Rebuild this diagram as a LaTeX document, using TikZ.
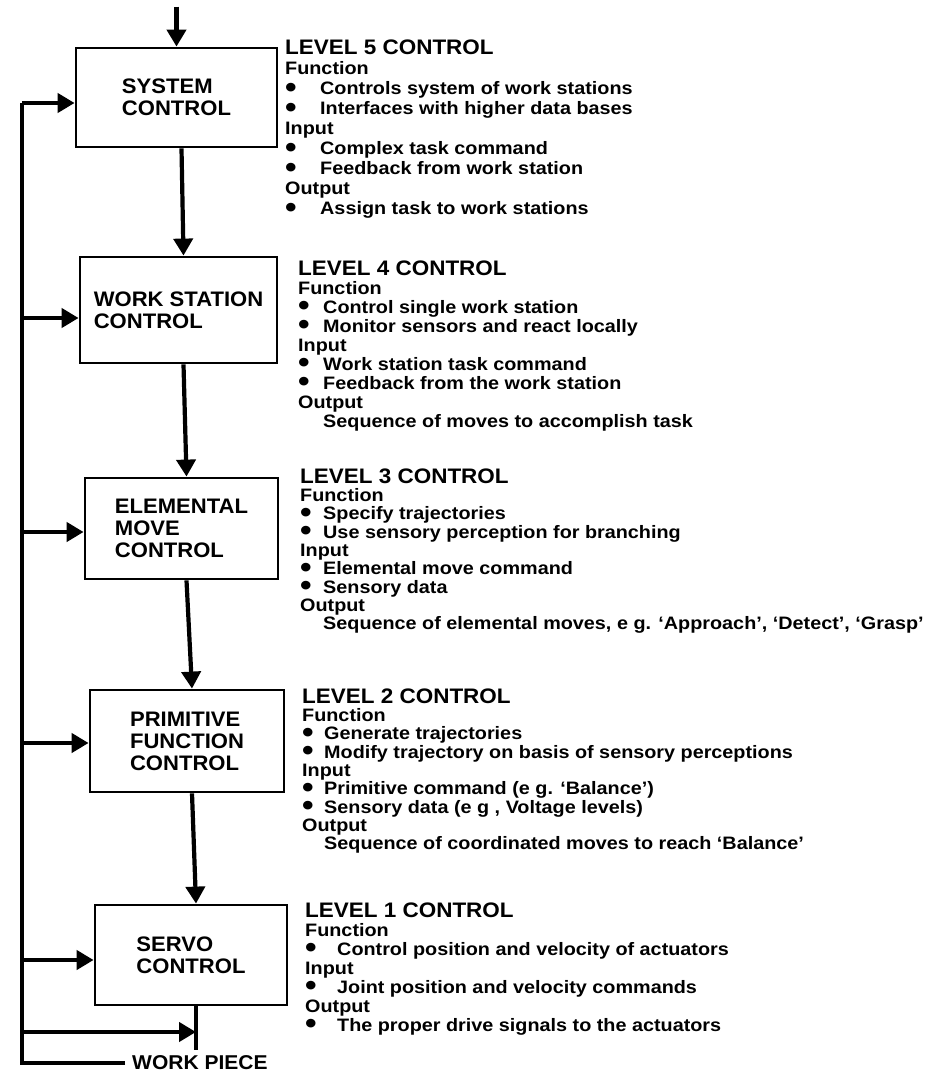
\documentclass[tikz,border=0pt]{standalone}
\usepackage{fontspec}
\setmainfont{Liberation Sans}
\newfontfamily\descfont[FakeStretch=1.1]{Liberation Sans}
\newfontfamily\headfont[FakeStretch=1.07]{Liberation Sans}
\newfontfamily\boxfont[FakeStretch=1.05]{Liberation Sans}
\usetikzlibrary{arrows.meta}

% bullet column of the description lists
\newlength\bulw
\newcommand\bul{\makebox[\bulw][l]{\raisebox{-2.5pt}[0pt][0pt]{\fontsize{30}{30}\selectfont\textbullet}}}
\newcommand\ind{\hspace*{\bulw}}
\newcommand\lvhead[1]{{\headfont\bfseries\fontsize{21}{20}\selectfont #1}}
\newcommand\lvtab[1]{\begin{tabular}[t]{@{}l@{}}#1\end{tabular}}

\begin{document}
\begin{tikzpicture}[x=1pt,y=-1pt,
  blk/.style={draw, line width=2.8pt, align=left, inner sep=0pt,
    font=\boxfont\bfseries\fontsize{21}{22}\selectfont},
  ln/.style={line width=4.2pt},
  arr/.style={line width=4.2pt, -{Triangle[length=17pt,width=19pt]}},
  desc/.style={anchor=base west, inner sep=0pt},
  wptext/.style={anchor=west, inner xsep=7pt, inner ysep=0pt,
    font=\boxfont\bfseries\fontsize{20}{20}\selectfont}]
\useasboundingbox (0,0) rectangle (932,1073);

% control hierarchy boxes
\node[blk, minimum width=201pt, minimum height=99pt]  (b1) at (176.5,97.5) {SYSTEM\\CONTROL};
\node[blk, minimum width=197pt, minimum height=106pt] (b2) at (178.5,310)  {WORK STATION\\CONTROL};
\node[blk, minimum width=193pt, minimum height=101pt] (b3) at (181.5,528.5) {ELEMENTAL\\MOVE\\CONTROL};
\node[blk, minimum width=194pt, minimum height=102pt] (b4) at (187,741)    {PRIMITIVE\\FUNCTION\\CONTROL};
\node[blk, minimum width=192pt, minimum height=100pt] (b5) at (191,955)    {SERVO\\CONTROL};

% command flow downwards
\coordinate (cmd) at ([yshift=40pt]b1.north);
\draw[arr] (cmd) -- (b1.north);
\draw[arr] ([xshift=5pt]b1.south) -- ([xshift=5pt]b2.north);
\draw[arr] ([xshift=5pt]b2.south) -- ([xshift=5pt]b3.north);
\draw[arr] ([xshift=5pt]b3.south) -- ([xshift=5pt]b4.north);
\draw[arr] ([xshift=5pt]b4.south) -- ([xshift=5pt]b5.north);

% servo output to the work piece
\coordinate (stubend) at (196,1050);
\draw[ln] ([xshift=5pt]b5.south) -- (stubend);

% feedback bus on the left
\coordinate (f1) at (22,103);
\coordinate (f2) at (22,318);
\coordinate (f3) at (22,532);
\coordinate (f4) at (22,743);
\coordinate (f5) at (22,960);
\coordinate (f6) at (22,1032);
\node[wptext] (wp) at (125,1063) {WORK PIECE};
\draw[ln] (wp.west) -| (f1);
\draw[arr] (f1) -- (f1 -| b1.west);
\draw[arr] (f2) -- (f2 -| b2.west);
\draw[arr] (f3) -- (f3 -| b3.west);
\draw[arr] (f4) -- (f4 -| b4.west);
\draw[arr] (f5) -- (f5 -| b5.west);
\draw[arr] (f6) -- (f6 -| stubend);

% level descriptions
\node[desc, font=\descfont\bfseries\fontsize{18}{20}\selectfont] (d5) at (285,55) {\setlength\bulw{35pt}\lvtab{%
  \lvhead{LEVEL 5 CONTROL}\\
  Function\\
  \bul Controls system of work stations\\
  \bul Interfaces with higher data bases\\
  Input\\
  \bul Complex task command\\
  \bul Feedback from work station\\
  Output\\
  \bul Assign task to work stations}};

\node[desc, font=\descfont\bfseries\fontsize{18}{19}\selectfont] (d4) at (298,275) {\setlength\bulw{25pt}\lvtab{%
  \lvhead{LEVEL 4 CONTROL}\\
  Function\\
  \bul Control single work station\\
  \bul Monitor sensors and react locally\\
  Input\\
  \bul Work station task command\\
  \bul Feedback from the work station\\
  Output\\
  \ind Sequence of moves to accomplish task}};

\node[desc, font=\descfont\bfseries\fontsize{18}{18}\selectfont] (d3) at (300,483) {\setlength\bulw{23pt}\lvtab{%
  \lvhead{LEVEL 3 CONTROL}\\
  Function\\
  \bul Specify trajectories\\
  \bul Use sensory perception for branching\\
  Input\\
  \bul Elemental move command\\
  \bul Sensory data\\
  Output\\
  \ind Sequence of elemental moves, e g. ‘Approach’, ‘Detect’, ‘Grasp’}};

\node[desc, font=\descfont\bfseries\fontsize{18}{18}\selectfont] (d2) at (302,703) {\setlength\bulw{22pt}\lvtab{%
  \lvhead{LEVEL 2 CONTROL}\\
  Function\\
  \bul Generate trajectories\\
  \bul Modify trajectory on basis of sensory perceptions\\
  Input\\
  \bul Primitive command (e g. ‘Balance’)\\
  \bul Sensory data (e g , Voltage levels)\\
  Output\\
  \ind Sequence of coordinated moves to reach ‘Balance’}};

\node[desc, font=\descfont\bfseries\fontsize{18}{19}\selectfont] (d1) at (305,917) {\setlength\bulw{32pt}\lvtab{%
  \lvhead{LEVEL 1 CONTROL}\\
  Function\\
  \bul Control position and velocity of actuators\\
  Input\\
  \bul Joint position and velocity commands\\
  Output\\
  \bul The proper drive signals to the actuators}};
\end{tikzpicture}
\end{document}
